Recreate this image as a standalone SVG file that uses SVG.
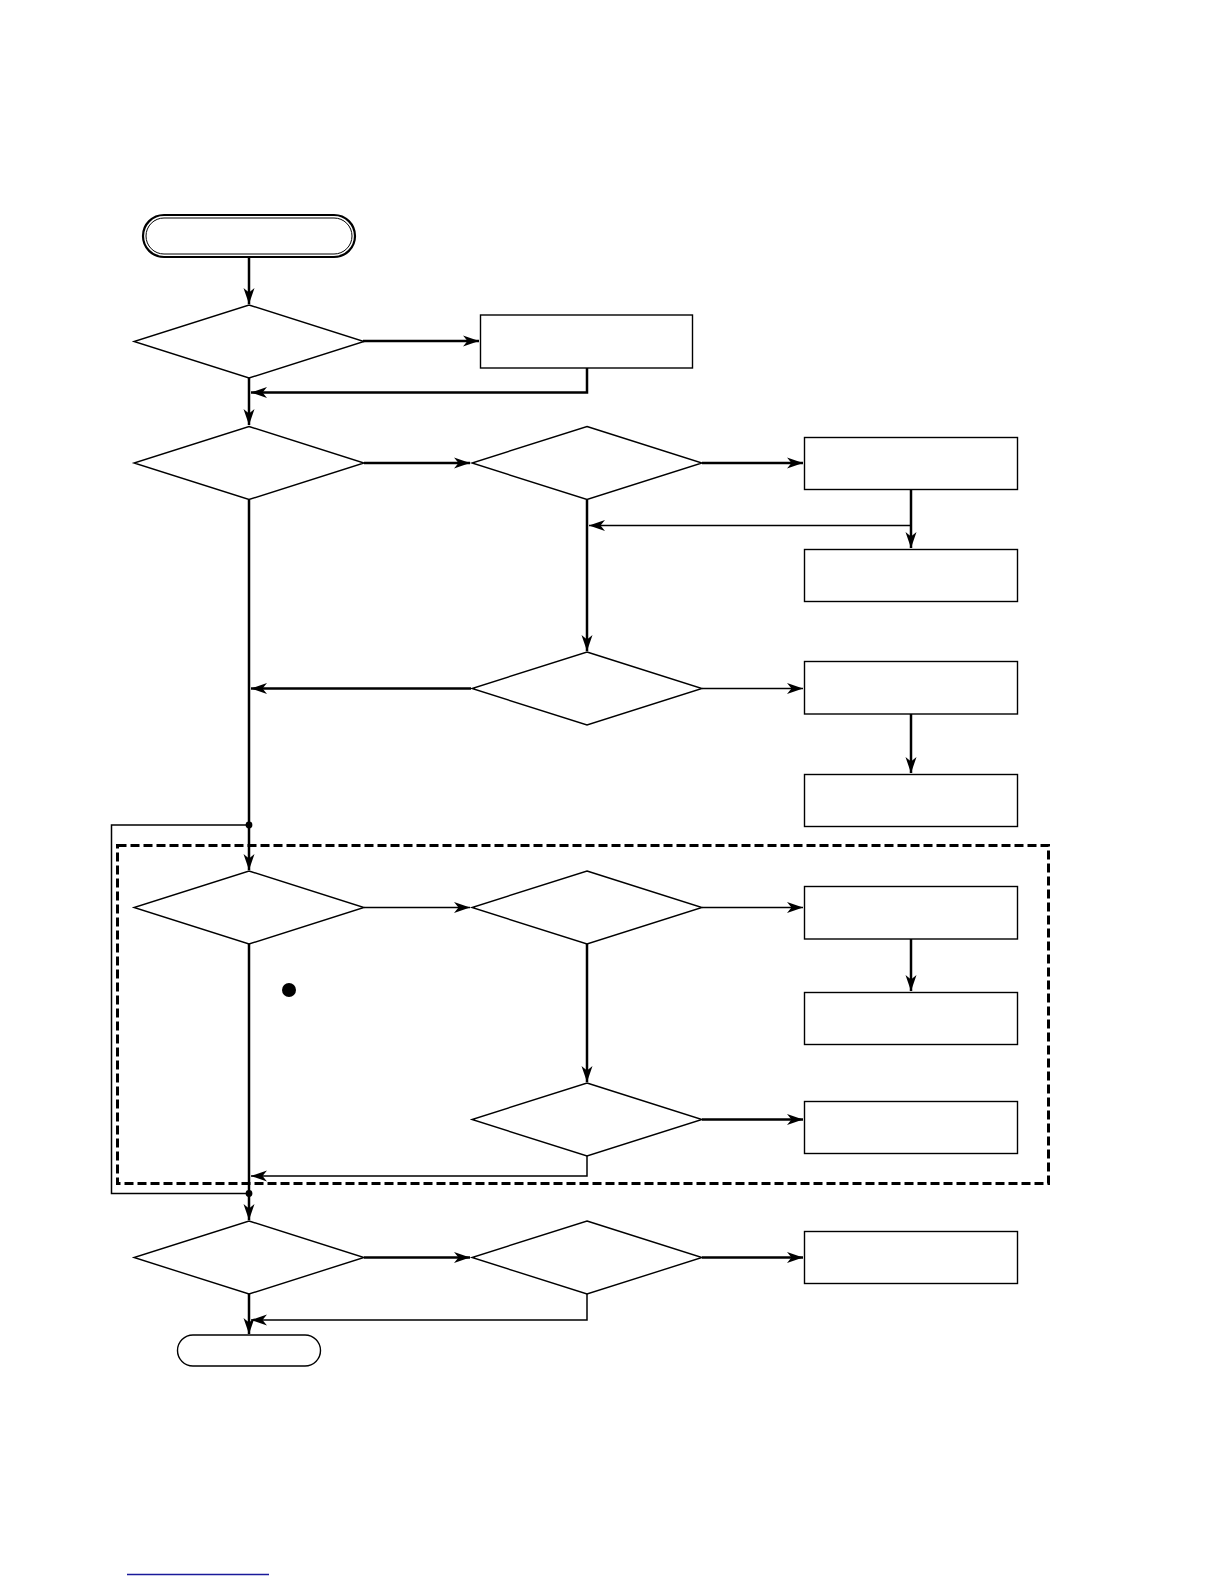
<svg xmlns="http://www.w3.org/2000/svg" width="1224" height="1584" viewBox="0 0 1224 1584">
<defs>
<marker id="ah" markerUnits="userSpaceOnUse" markerWidth="17" markerHeight="12" refX="16" refY="6" orient="auto">
<path d="M0,0.5 L16,6 L0,11.5 L4.5,6 z" fill="#000"/>
</marker>
<style>
.shape{fill:#fff;stroke:#000;stroke-width:1.4}
.thick{fill:none;stroke:#000;stroke-width:2.5}
.thin{fill:none;stroke:#000;stroke-width:1.5}
.arr{marker-end:url(#ah)}
.dash{fill:none;stroke:#000;stroke-width:3;stroke-dasharray:9 4}
</style>
</defs>
<rect width="1224" height="1584" fill="#fff"/>
<g id="group-box"><rect class="dash" x="117.5" y="845.5" width="931" height="338"/></g>
<g id="connectors">
<path class="thick arr" d="M249,257 V304"/>
<path class="thick arr" d="M363,341 H479"/>
<path class="thick arr" d="M587,368 V392.5 H251"/>
<path class="thick arr" d="M249,378 V425"/>
<path class="thick arr" d="M364,463 H470"/>
<path class="thick arr" d="M702,463 H803"/>
<path class="thick arr" d="M911,489 V548"/>
<path class="thin arr" d="M911,525.5 H589"/>
<path class="thick arr" d="M587,500 V651"/>
<path class="thick arr" d="M471,688.5 H251"/>
<path class="thin arr" d="M702,688.5 H803"/>
<path class="thick arr" d="M911,714 V773"/>
<path class="thick" d="M249,500 V825"/>
<path class="thick arr" d="M249,825 V870"/>
<path class="thin" d="M249,825 H111.5 V1193.5 H249"/>
<path class="thin arr" d="M364,907.5 H470"/>
<path class="thin arr" d="M702,907.5 H803"/>
<path class="thick arr" d="M911,939 V991"/>
<path class="thick" d="M249,944 V1193.5"/>
<path class="thick arr" d="M587,944 V1082"/>
<path class="thick arr" d="M702,1119.5 H803"/>
<path class="thin arr" d="M587,1156 V1176 H251"/>
<path class="thick arr" d="M249,1193.5 V1220"/>
<path class="thick arr" d="M364,1257.5 H470"/>
<path class="thick arr" d="M702,1257.5 H803"/>
<path class="thick arr" d="M249,1294 V1334"/>
<path class="thin arr" d="M587,1294 V1320 H251"/>
<circle cx="249" cy="825" r="3.4" fill="#000"/>
<circle cx="249" cy="1193.5" r="3.4" fill="#000"/>
</g>
<g id="start">
<rect x="143" y="215" width="212" height="42" rx="21" fill="#fff" stroke="#000" stroke-width="2.2"/>
<rect x="146" y="218" width="206" height="36" rx="18" fill="none" stroke="#000" stroke-width="1"/>
</g>
<g id="d1"><polygon class="shape" points="249,305 364,341.5 249,378 134,341.5"/></g>
<g id="r1"><rect class="shape" x="480.5" y="315" width="212" height="53"/></g>
<g id="d2"><polygon class="shape" points="249,426.5 364,463 249,499.5 134,463"/></g>
<g id="d3"><polygon class="shape" points="587,426.5 702,463 587,499.5 472,463"/></g>
<g id="r2"><rect class="shape" x="804.5" y="437.5" width="213" height="52"/></g>
<g id="r3"><rect class="shape" x="804.5" y="549.5" width="213" height="52"/></g>
<g id="d4"><polygon class="shape" points="587,652 702,688.5 587,725 472,688.5"/></g>
<g id="r4"><rect class="shape" x="804.5" y="661.5" width="213" height="52.5"/></g>
<g id="r5"><rect class="shape" x="804.5" y="774.5" width="213" height="52"/></g>
<g id="d5"><polygon class="shape" points="249,871 364,907.5 249,944 134,907.5"/></g>
<g id="d6"><polygon class="shape" points="587,871 702,907.5 587,944 472,907.5"/></g>
<g id="r6"><rect class="shape" x="804.5" y="886.5" width="213" height="52.5"/></g>
<g id="r7"><rect class="shape" x="804.5" y="992.5" width="213" height="52"/></g>
<g id="d7"><polygon class="shape" points="587,1083 702,1119.5 587,1156 472,1119.5"/></g>
<g id="r8"><rect class="shape" x="804.5" y="1101.5" width="213" height="52"/></g>
<g id="d8"><polygon class="shape" points="249,1221 364,1257.5 249,1294 134,1257.5"/></g>
<g id="d9"><polygon class="shape" points="587,1221 702,1257.5 587,1294 472,1257.5"/></g>
<g id="r9"><rect class="shape" x="804.5" y="1231.5" width="213" height="52"/></g>
<g id="end"><rect class="shape" x="177.5" y="1335" width="143" height="31" rx="15.5"/></g>
<circle cx="289" cy="990" r="7" fill="#000"/>
<line x1="127" y1="1574.5" x2="269" y2="1574.5" stroke="#1a1a9a" stroke-width="1.6"/>
</svg>
